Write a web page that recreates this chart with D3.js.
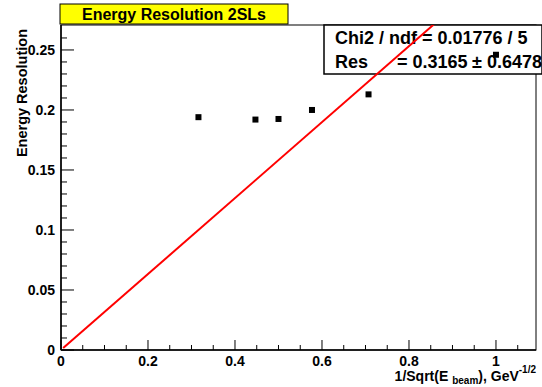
<!DOCTYPE html>
<html>
<head>
<meta charset="utf-8">
<script src="https://cdn.jsdelivr.net/npm/d3@7"></script>
<style>
  body { margin: 0; background: #fff; }
  text { font-family: "Liberation Sans", Arial, sans-serif; font-weight: bold; }
</style>
</head>
<body>
<svg id="chart" width="542" height="387"></svg>
<script>
// beam energies 10,5,4,3,2,1 GeV -> 1/sqrt(E)
const xValues = [0.316, 0.447, 0.5, 0.577, 0.707, 1.0];
const resolution = [0.194, 0.192, 0.1925, 0.200, 0.213, 0.246];
const fitRes = 0.3165;
const xTicks = [0, 0.2, 0.4, 0.6, 0.8, 1];
const yTicks = [0, 0.05, 0.1, 0.15, 0.2, 0.25];
const titleText = 'Energy Resolution 2SLs';
const statLines = ['Chi2 / ndf = 0.01776 / 5', 'Res', '= 0.3165', '\u00b1 0.6478'];

const svg = d3.select('#chart');
const pLeft = 61, pRight = 536, pTop = 25, pBottom = 350;

const x = d3.scaleLinear().domain([0, 1.092]).range([pLeft, pRight]);
const y = d3.scaleLinear().domain([0, 0.2708]).range([pBottom, pTop]);

// frame
svg.append('rect')
    .attr('x', pLeft).attr('y', pTop)
    .attr('width', pRight - pLeft).attr('height', pBottom - pTop)
    .attr('fill', 'none').attr('stroke', '#000').attr('stroke-width', 1);

// x axis ticks (inward)
const xMinor = d3.range(0, 1.09, 0.05);
svg.append('g').selectAll('line').data(xMinor).join('line')
    .attr('x1', d => x(d)).attr('x2', d => x(d))
    .attr('y1', pBottom)
    .attr('y2', d => pBottom - (Math.abs(d / 0.2 - Math.round(d / 0.2)) < 1e-6 ? 10 : 5))
    .attr('stroke', '#000');
svg.append('g').selectAll('text').data(xTicks).join('text')
    .attr('x', d => x(d)).attr('y', 366)
    .attr('text-anchor', 'middle').attr('font-size', 14)
    .text(d => d3.format('~g')(d));

// y axis ticks (inward)
const yMinor = d3.range(0, 0.27, 0.01);
svg.append('g').selectAll('line').data(yMinor).join('line')
    .attr('y1', d => y(d)).attr('y2', d => y(d))
    .attr('x1', pLeft)
    .attr('x2', d => pLeft + (Math.abs(d / 0.05 - Math.round(d / 0.05)) < 1e-6 ? 13 : 6))
    .attr('stroke', '#000');
svg.append('g').selectAll('text').data(yTicks).join('text')
    .attr('x', 55).attr('y', d => y(d) + 5)
    .attr('text-anchor', 'end').attr('font-size', 14)
    .text(d => d3.format('~g')(d));

svg.append('line').attr('x1', pLeft).attr('x2', pLeft).attr('y1', pTop).attr('y2', pBottom)
    .attr('stroke', '#000').attr('stroke-width', 1.5);
svg.append('line').attr('x1', pLeft).attr('x2', pRight).attr('y1', pBottom).attr('y2', pBottom)
    .attr('stroke', '#000').attr('stroke-width', 1.5);

// axis titles
svg.append('text')
    .attr('transform', `translate(27,29) rotate(-90)`)
    .attr('text-anchor', 'end').attr('font-size', 14.5)
    .text('Energy Resolution');

const xt = svg.append('text')
    .attr('x', 536).attr('y', 381)
    .attr('text-anchor', 'end').attr('font-size', 14);
xt.append('tspan').text('1/Sqrt(E ');
xt.append('tspan').attr('font-size', 10).attr('dy', 3).text('beam');
xt.append('tspan').attr('dy', -3).text('), GeV');
xt.append('tspan').attr('font-size', 10).attr('dy', -8).text('-1/2');

// title box
svg.append('rect')
    .attr('x', 60).attr('y', 4).attr('width', 228).attr('height', 20)
    .attr('fill', '#ffff00').attr('stroke', '#000').attr('stroke-width', 1);
svg.append('text')
    .attr('x', 174).attr('y', 20)
    .attr('text-anchor', 'middle').attr('font-size', 16)
    .text(titleText);

// stats box
svg.append('rect')
    .attr('x', 324).attr('y', 25).attr('width', 218).attr('height', 49)
    .attr('fill', '#fff').attr('stroke', '#000').attr('stroke-width', 1.5);
svg.append('text').attr('x', 335).attr('y', 44).attr('font-size', 18).text(statLines[0]);
svg.append('text').attr('x', 335).attr('y', 68).attr('font-size', 18).text(statLines[1]);
svg.append('text').attr('x', 397).attr('y', 68).attr('font-size', 18).text(statLines[2]);
svg.append('text').attr('x', 472).attr('y', 68).attr('font-size', 18).text(statLines[3]);

// fit line, clipped to frame
svg.append('clipPath').attr('id', 'clip').append('rect')
    .attr('x', pLeft).attr('y', pTop).attr('width', pRight - pLeft).attr('height', pBottom - pTop);
const fitX = [0.005, 1.092];
svg.append('path')
    .datum(fitX)
    .attr('clip-path', 'url(#clip)')
    .attr('fill', 'none').attr('stroke', '#ff0000').attr('stroke-width', 2)
    .attr('d', d3.line().x(d => x(d)).y(d => y(fitRes * d)));

// data points
svg.append('g').selectAll('rect').data(xValues).join('rect')
    .attr('x', (d, i) => x(d) - 3)
    .attr('y', (d, i) => y(resolution[i]) - 3)
    .attr('width', 6).attr('height', 6)
    .attr('fill', '#000');
</script>
</body>
</html>
